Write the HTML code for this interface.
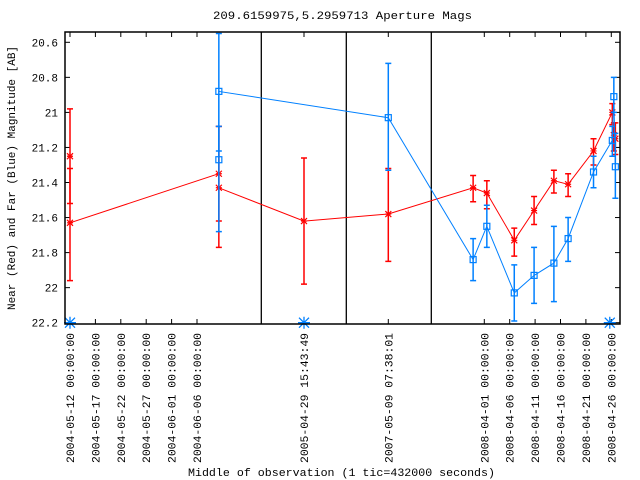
<!DOCTYPE html>
<html><head><meta charset="utf-8"><style>
body{margin:0;background:#fff}
svg{display:block}
text{font-family:"Liberation Mono","DejaVu Sans Mono",monospace;font-size:11px;fill:#000}
</style></head><body>
<svg id="chart" width="640" height="480" viewBox="0 0 640 480" xmlns="http://www.w3.org/2000/svg">
<text x="213" y="19" textLength="259" lengthAdjust="spacingAndGlyphs">209.6159975,5.2959713   Aperture Mags</text>
<text x="188" y="476" textLength="307" lengthAdjust="spacingAndGlyphs">Middle of observation (1 tic=432000 seconds)</text>
<text transform="translate(15,178) rotate(-90)" text-anchor="middle">Near (Red) and Far (Blue) Magnitude [AB]</text>
<g id="grid"></g><g id="series"></g>
<rect x="65" y="32" width="555" height="292" fill="none" stroke="#000" stroke-width="1.5"/>
</svg>
<script>
// y axis
const yTicks = [20.6, 20.8, 21, 21.2, 21.4, 21.6, 21.8, 22, 22.2];
const yTickLabels = ["20.6","20.8","21","21.2","21.4","21.6","21.8","22","22.2"];
// x axis: segmented (segment index, day offset from segment base)
const xTickSeg = [0,0,0,0,0,0,1,2,3,3,3,3,3,3];
const xTickDay = [0,5,10,15,20,25,0,0,0,5,10,15,20,25];
const xTickLabels = ["2004-05-12 00:00:00","2004-05-17 00:00:00","2004-05-22 00:00:00","2004-05-27 00:00:00","2004-06-01 00:00:00","2004-06-06 00:00:00","2005-04-29 15:43:49","2007-05-09 07:38:01","2008-04-01 00:00:00","2008-04-06 00:00:00","2008-04-11 00:00:00","2008-04-16 00:00:00","2008-04-21 00:00:00","2008-04-26 00:00:00"];
const breakSeg = [0,1,2];
// red (near) series
const redSeg = [0,0,0,0,1,2,3,3,3,3,3,3,3,3,3,3];
const redDay = [0,0,29.3,29.3,0,0,-2.2,0.5,5.9,9.8,13.7,16.5,21.5,25.2,25.5,25.8];
const redVal = [21.25,21.63,21.35,21.43,21.62,21.58,21.43,21.46,21.73,21.56,21.39,21.41,21.22,21.0,21.13,21.15];
const redLo  = [20.98,21.32,21.08,21.08,21.26,21.32,21.36,21.39,21.66,21.48,21.33,21.35,21.15,20.95,21.06,21.06];
const redHi  = [21.52,21.96,21.62,21.77,21.98,21.85,21.51,21.55,21.82,21.64,21.46,21.48,21.30,21.07,21.22,21.24];
// blue (far) series
const blueSeg = [0,0,1,2,3,3,3,3,3,3,3,3,3,3];
const blueDay = [29.3,29.3,0,0,-2.2,0.5,5.9,9.8,13.7,16.5,21.5,25.2,25.5,25.8];
const blueVal = [21.27,20.88,22.2,21.03,21.84,21.65,22.03,21.93,21.86,21.72,21.34,21.16,20.91,21.31];
const blueLo  = [21.08,20.55,22.2,20.72,21.72,21.53,21.87,21.77,21.65,21.60,21.25,21.08,20.80,21.12];
const blueHi  = [21.68,21.22,22.2,21.33,21.96,21.77,22.19,22.09,22.08,21.85,21.43,21.25,21.00,21.49];
const blueStarSeg = [0,1,3];
const blueStarDay = [0,0,24.7];

const segBase = [70,304,388.3,484.3];
const breakX = [261.3,346.3,431.3];
const pxPerDay = 5.08;
function xs(seg, d){ return segBase[seg] + d*pxPerDay; }
function ys(v){ return 42.3 + (v-20.6)/1.6*280.4; }
const NS="http://www.w3.org/2000/svg";
function mk(tag, attrs, parent){ const e=document.createElementNS(NS,tag); for(const k in attrs) e.setAttribute(k,attrs[k]); parent.appendChild(e); return e; }
const grid=document.getElementById('grid'), ser=document.getElementById('series');

yTicks.forEach((v,i)=>{
  const y=ys(v);
  const t=mk('line',{x1:65,x2:70,y1:y,y2:y,stroke:'#000'},grid);
  
  
  const t2=mk('line',{x1:615,x2:620,y1:y,y2:y,stroke:'#000'},grid);
  
  
  const l=mk('text',{x:58,y:y+4,'text-anchor':'end'},grid);
  l.textContent=yTickLabels[i];
  
  
});
xTickLabels.forEach((lab,i)=>{
  const x=xs(xTickSeg[i],xTickDay[i]);
  const t=mk('line',{x1:x,x2:x,y1:319,y2:324,stroke:'#000'},grid);
  
  
  const t2=mk('line',{x1:x,x2:x,y1:32,y2:37,stroke:'#000'},grid);
  
  
  const l=mk('text',{transform:`translate(${x+4},333) rotate(-90)`,'text-anchor':'end',textLength:130,lengthAdjust:'spacingAndGlyphs'},grid);
  l.textContent=lab;
  
  
});
breakSeg.forEach(i=>{
  const b=mk('line',{x1:breakX[i],x2:breakX[i],y1:32,y2:324,stroke:'#000','stroke-width':1.3},grid);
  
  
});

function drawSeries(segs,days,vals,lo,hi,color,marker,name){
  const pts=vals.map((v,i)=>xs(segs[i],days[i]).toFixed(1)+','+ys(v).toFixed(1)).join(' ');
  const pl=mk('polyline',{points:pts,fill:'none',stroke:color,'stroke-width':1},ser);
  
  
  vals.forEach((v,i)=>{
    const x=xs(segs[i],days[i]), y=ys(v), y1=ys(lo[i]), y2=ys(hi[i]);
    if(hi[i]!==lo[i]){
      const eb=mk('path',{d:`M${x},${y1}V${y2}M${x-3},${y1}H${x+3}M${x-3},${y2}H${x+3}`,stroke:color,'stroke-width':1.5,fill:'none'},ser);
      
      
    }
    let m;
    if(marker==='x') m=mk('path',{d:`M${x-3},${y-3}L${x+3},${y+3}M${x-3},${y+3}L${x+3},${y-3}M${x-3},${y}H${x+3}`,stroke:color,'stroke-width':1.2,fill:'none'},ser);
    else m=mk('rect',{x:x-3,y:y-3,width:6,height:6,stroke:color,'stroke-width':1.2,fill:'none'},ser);
    
    
  });
}
drawSeries(redSeg,redDay,redVal,redLo,redHi,'#ff0000','x','red-near');
drawSeries(blueSeg.filter((s,i)=>blueLo[i]!==blueHi[i]),blueDay.filter((s,i)=>blueLo[i]!==blueHi[i]),blueVal.filter((s,i)=>blueLo[i]!==blueHi[i]),blueLo.filter((s,i)=>blueLo[i]!==blueHi[i]),blueHi.filter((s,i)=>blueLo[i]!==blueHi[i]),'#0080ff','s','blue-far');
blueStarSeg.forEach((s,i)=>{
  const x=xs(s,blueStarDay[i]), y=ys(22.2);
  const st=mk('path',{d:`M${x-6},${y}H${x+6}M${x},${y-6}V${y+6}M${x-5},${y-5}L${x+5},${y+5}M${x-5},${y+5}L${x+5},${y-5}`,stroke:'#0080ff','stroke-width':1.3,fill:'none'},ser);
  
  
});
</script>
</body></html>
